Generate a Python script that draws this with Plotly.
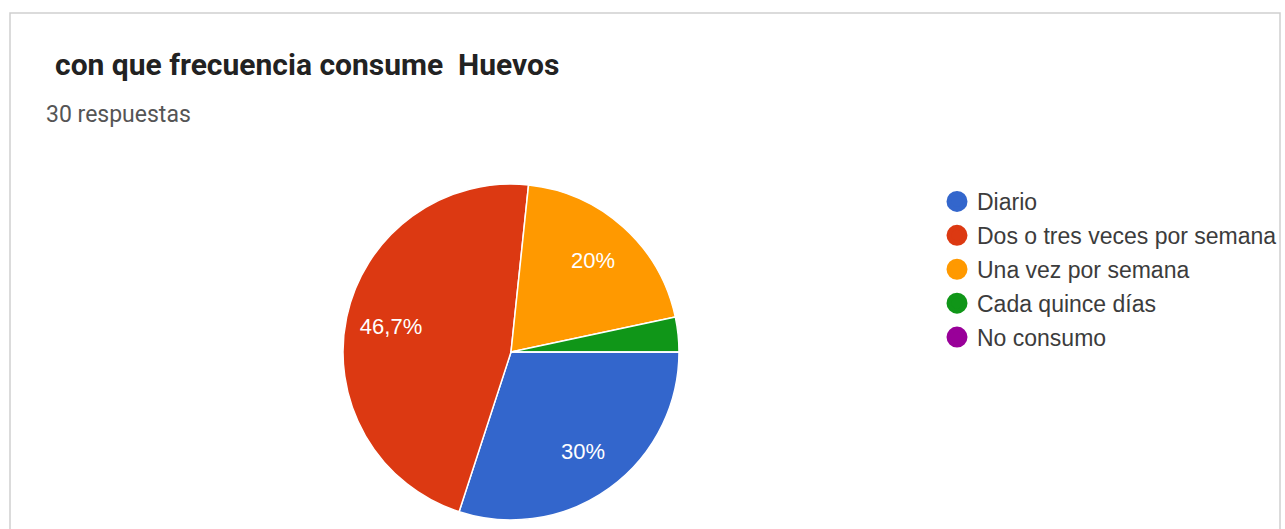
import plotly.graph_objects as go

# Survey answers (30 responses)
categories = ["Diario", "Dos o tres veces por semana", "Una vez por semana",
              "Cada quince días", "No consumo"]
counts = [9, 14, 6, 1, 0]
pct_labels = ["30%", "46,7%", "20%", "", ""]
colors = ["#3366cc", "#dc3912", "#ff9900", "#109618", "#990099"]

title_text = "con que frecuencia consume\u00a0 Huevos"
subtitle_text = "30 respuestas"

W, H = 1285, 529
CX, CY, R = 511, 352, 168
pie_domain = dict(x=[(CX - R) / W, (CX + R) / W],
                  y=[1 - (CY + R) / H, 1 - (CY - R) / H])

fig = go.Figure()

# Filled slices
fig.add_trace(go.Pie(
    labels=categories,
    values=counts,
    textinfo="none",
    marker=dict(colors=colors, line=dict(color="white", width=1.5)),
    sort=False,
    direction="clockwise",
    rotation=90,
    showlegend=False,
    hoverinfo="label+percent",
    domain=pie_domain,
))

# Percentage labels, placed in an outer ring so they sit away from the centre
fig.add_trace(go.Pie(
    labels=categories,
    values=counts,
    text=pct_labels,
    textinfo="text",
    textposition="inside",
    insidetextorientation="horizontal",
    textfont=dict(family="Liberation Sans, Arial", size=22, color="white"),
    hole=0.46,
    marker=dict(colors=["rgba(0,0,0,0)"] * len(categories),
                line=dict(width=0)),
    sort=False,
    direction="clockwise",
    rotation=90,
    showlegend=False,
    hoverinfo="skip",
    domain=pie_domain,
))

# Legend entries with round markers
for i, (name, col) in enumerate(zip(categories, colors)):
    fig.add_trace(go.Scatter(
        x=[None], y=[None], mode="markers", name=name,
        legendgroup=f"g{i}",
        marker=dict(symbol="circle", size=16, color=col,
                    line=dict(color=col, width=5)),
        hoverinfo="skip",
    ))

fig.update_layout(
    width=W, height=H,
    margin=dict(l=0, r=0, t=0, b=0),
    paper_bgcolor="white",
    plot_bgcolor="white",
    xaxis=dict(visible=False),
    yaxis=dict(visible=False),
    legend=dict(
        x=937 / W, xanchor="left",
        y=1 - 180 / H, yanchor="top",
        font=dict(family="Liberation Sans, Arial", size=23, color="#3c3c3c"),
        tracegroupgap=1,
        bgcolor="rgba(0,0,0,0)",
        itemsizing="trace",
    ),
    shapes=[
        dict(type="rect", xref="paper", yref="paper",
             x0=10 / W, x1=1280 / W, y0=-0.05, y1=1 - 13 / H,
             line=dict(color="#cfcfcf", width=1.5), fillcolor="rgba(0,0,0,0)",
             layer="below"),
    ],
    annotations=[
        dict(text=f"<b>{title_text}</b>", xref="paper", yref="paper",
             x=53 / W, y=1 - 65 / H, xanchor="left", yanchor="middle",
             showarrow=False,
             font=dict(family="Roboto", size=30, color="#222222")),
        dict(text=subtitle_text, xref="paper", yref="paper",
             x=44 / W, y=1 - 114 / H, xanchor="left", yanchor="middle",
             showarrow=False,
             font=dict(family="Roboto", size=23, color="#555555")),
    ],
)

fig.write_html("out.html")
